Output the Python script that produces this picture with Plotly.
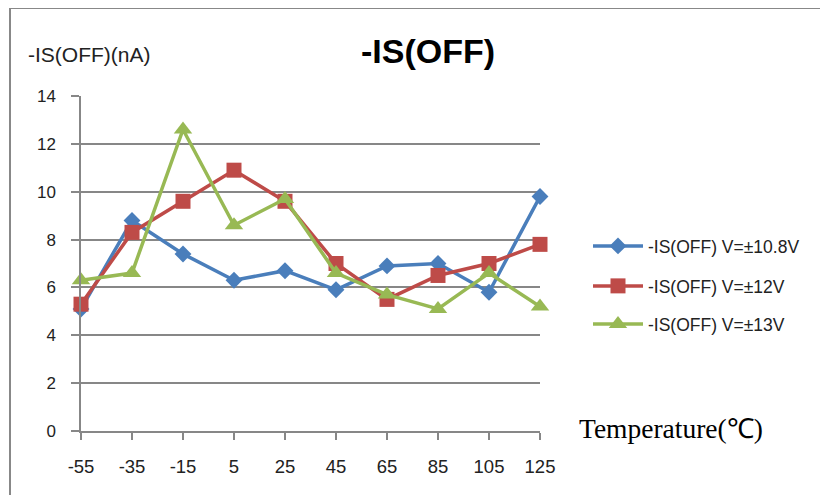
import plotly.graph_objects as go

temperatures = [-55, -35, -15, 5, 25, 45, 65, 85, 105, 125]
tick_labels = ["-55", "-35", "-15", "5", "25", "45", "65", "85", "105", "125"]
is_off_10_8v = [5.1, 8.8, 7.4, 6.3, 6.7, 5.9, 6.9, 7.0, 5.8, 9.8]
is_off_12v = [5.3, 8.3, 9.6, 10.9, 9.6, 7.0, 5.5, 6.5, 7.0, 7.8]
is_off_13v = [6.3, 6.6, 12.6, 8.6, 9.7, 6.6, 5.7, 5.1, 6.6, 5.2]
series_names = ["-IS(OFF) V=±10.8V", "-IS(OFF) V=±12V", "-IS(OFF) V=±13V"]
y_ticks = [0, 2, 4, 6, 8, 10, 12, 14]

colors = ["#4A7EBB", "#BE4B48", "#98B954"]
symbols = ["diamond", "square", "triangle-up"]
sizes = [13, 15, 16]
legend_ids = ["legend", "legend2", "legend3"]
legend_rows = [246, 286, 324]  # page y centres of legend rows

OFF = 8  # page body margin
W, H = 828, 495
PL, PR, PT, PB = 81, 540, 96, 431  # plot area in page pixels
L, T = PL - OFF, PT - OFF
R, B = W - (PR - OFF), H - (PB - OFF)
pw, ph = PR - PL, PB - PT

def px(x):
    return (x - PL) / pw

def py(y):
    return (PB - y) / ph

fig = go.Figure()
for vals, name, c, s, sz, lg in zip([is_off_10_8v, is_off_12v, is_off_13v], series_names,
                                     colors, symbols, sizes, legend_ids):
    fig.add_trace(go.Scatter(
        x=temperatures, y=vals, name=name, mode="lines+markers",
        line=dict(color=c, width=3.5),
        marker=dict(symbol=s, size=sz, color=c, line=dict(width=0)),
        cliponaxis=False, legend=lg,
    ))

legend_font = dict(family="Liberation Sans", size=17.5, color="#222")
legend_layouts = {}
for lg, row in zip(legend_ids, legend_rows):
    legend_layouts[lg] = dict(
        x=px(588), y=py(row), xanchor="left", yanchor="middle",
        font=legend_font, itemwidth=50, bgcolor="rgba(0,0,0,0)",
    )

fig.update_layout(
    width=W, height=H,
    margin=dict(l=L, r=R, t=T, b=B),
    paper_bgcolor="white", plot_bgcolor="white",
    showlegend=True,
    **legend_layouts,
    xaxis=dict(
        range=[-55, 125], tickmode="array", tickvals=temperatures, ticktext=tick_labels,
        showgrid=False, zeroline=False, showline=True, linecolor="#878787", linewidth=1.5,
        ticks="outside", ticklen=7, tickcolor="#878787", tickwidth=1.5,
        tickfont=dict(family="Liberation Sans", size=18.5, color="#222"),
        ticklabelstandoff=11,
    ),
    yaxis=dict(
        range=[0, 14], tickmode="array", tickvals=y_ticks,
        showgrid=True, gridcolor="#878787", gridwidth=1.5, zeroline=False,
        showline=True, linecolor="#878787", linewidth=1.5,
        ticks="outside", ticklen=8, tickcolor="#878787", tickwidth=1.5,
        tickfont=dict(family="Liberation Sans", size=17, color="#222"),
        ticklabelstandoff=12,
    ),
    annotations=[
        dict(text="<b>-IS(OFF)</b>", x=px(428), y=py(51), xref="paper", yref="paper",
             xanchor="center", yanchor="middle",
             showarrow=False, font=dict(family="Liberation Sans", size=34, color="#000")),
        dict(text="-IS(OFF)(nA)", x=px(89), y=py(55), xref="paper", yref="paper",
             xanchor="center", yanchor="middle",
             showarrow=False, font=dict(family="Liberation Sans", size=21, color="#222")),
        dict(text="Temperature(℃)", x=px(671), y=py(428), xref="paper", yref="paper",
             xanchor="center", yanchor="middle",
             showarrow=False, font=dict(family="Liberation Serif", size=27.5, color="#000")),
    ],
    shapes=[
        dict(type="line", xref="paper", yref="paper", x0=px(10), x1=px(10), y0=py(8), y1=py(503),
             line=dict(color="#888", width=2)),
        dict(type="line", xref="paper", yref="paper", x0=px(10), x1=px(836), y0=py(8), y1=py(8),
             line=dict(color="#888", width=2)),
    ],
)

fig.write_html("out.html")
